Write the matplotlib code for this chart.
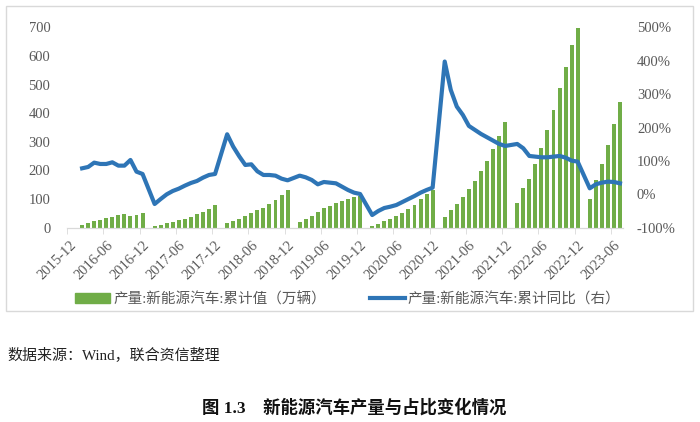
import matplotlib.pyplot as plt
import numpy as np
import pandas as pd
from matplotlib.patches import Rectangle, Patch
from matplotlib.lines import Line2D

plt.rcParams['font.family'] = ['Liberation Serif', 'Noto Sans CJK SC', 'DejaVu Sans']

# 月份 2015-12 ~ 2023-07，1月无数据
months = pd.period_range('2015-12', '2023-07', freq='M').strftime('%Y-%m').tolist()

# 产量:新能源汽车:累计值（万辆），各年2月起
prod_2016 = [9, 16, 22, 28, 34, 37, 44, 49, 41, 43, 50]
prod_2017 = [7, 10, 15, 20, 26, 31, 38, 47, 54, 64, 78]
prod_2018 = [15, 22, 31, 42, 52, 61, 70, 82, 97, 114, 133]
prod_2019 = [19, 29, 40, 55, 69, 77, 85, 92, 101, 109, 112]
prod_2020 = [7, 13, 23, 31, 42, 52, 66, 81, 99, 118, 133]
prod_2021 = [37, 61, 84, 107, 134, 162, 197, 233, 275, 322, 371]
prod_2022 = [86, 139, 172, 222, 280, 341, 412, 488, 562, 638, 701]
prod_2023 = [101, 168, 222, 289, 364, 440]

# 产量:新能源汽车:累计同比（%）
yoy_2016 = [78, 82, 95, 91, 91, 96, 86, 86, 103, 68, 61]
yoy_2017 = [-29, -14, 0, 10, 17, 26, 34, 40, 50, 58, 61]
yoy_2018 = [180, 143, 114, 88, 90, 69, 58, 58, 56, 47, 42]
yoy_2019 = [56, 51, 43, 30, 37, 35, 33, 23, 13, 5, 1]
yoy_2020 = [-62, -50, -41, -37, -32, -23, -14, -5, 5, 13, 20]
yoy_2021 = [398, 313, 263, 238, 205, 193, 181, 171, 161, 151, 145]
yoy_2022 = [151, 138, 115, 113, 111, 111, 113, 115, 110, 101, 98]
yoy_2023 = [18, 30, 35, 38, 37, 33]

prod_years = {2016: prod_2016, 2017: prod_2017, 2018: prod_2018, 2019: prod_2019,
              2020: prod_2020, 2021: prod_2021, 2022: prod_2022, 2023: prod_2023}
yoy_years = {2016: yoy_2016, 2017: yoy_2017, 2018: yoy_2018, 2019: yoy_2019,
             2020: yoy_2020, 2021: yoy_2021, 2022: yoy_2022, 2023: yoy_2023}

prod = pd.Series(np.nan, index=months)
yoy = pd.Series(np.nan, index=months)
for year, vals in prod_years.items():
    for i, v in enumerate(vals):
        prod[f'{year}-{i + 2:02d}'] = v
for year, vals in yoy_years.items():
    for i, v in enumerate(vals):
        yoy[f'{year}-{i + 2:02d}'] = v

x = np.arange(len(months))
grey = '#595959'

fig = plt.figure(figsize=(7, 4.22), dpi=100)
ax = fig.add_axes([67 / 700, 1 - 227.7 / 422, (623 - 67) / 700, (227.7 - 27.5) / 422])

ax.bar(x, prod.values, width=0.65, color='#70AD47')
ax.set_ylim(0, 700)
ax.set_yticks(range(0, 701, 100))
ax.set_xlim(-0.5, len(months) - 0.5)

ax2 = ax.twinx()
mask = yoy.notna().values
ax2.plot(x[mask], yoy.values[mask], color='#2E75B6', lw=3, solid_joinstyle='round')
ax2.set_ylim(-100, 500)
ax2.set_yticks(range(-100, 501, 100))
ax2.set_yticklabels([f'{v}%' for v in range(-100, 501, 100)])

# x 轴：每6个月一个标签
lab_idx = x[::6]
ax.set_xticks(lab_idx)
ax.set_xticklabels([months[i] for i in lab_idx], rotation=45, ha='right',
                   rotation_mode='anchor', fontsize=10.5, color=grey)
ax.set_xticks(lab_idx - 0.5, minor=True)
ax.tick_params(axis='x', which='major', length=0, pad=8)
ax.tick_params(axis='x', which='minor', length=4, color='#D9D9D9')
ax.tick_params(axis='y', length=0, labelsize=10.5, labelcolor=grey, pad=12)
ax2.tick_params(axis='y', length=0, labelsize=10.5, labelcolor=grey, pad=10)

for a in (ax, ax2):
    for s in ('top', 'left', 'right'):
        a.spines[s].set_visible(False)
    a.spines['bottom'].set_color('#D9D9D9')

handles = [Patch(color='#70AD47'), Line2D([], [], color='#2E75B6', lw=3)]
labels = ['产量:新能源汽车:累计值（万辆）', '产量:新能源汽车:累计同比（右）']
fig.legend(handles, labels, loc='center', bbox_to_anchor=(348 / 700, 1 - 299 / 422),
           ncol=2, frameon=False, fontsize=10.5, labelcolor=grey,
           handlelength=2.4, handleheight=0.6, handletextpad=0.2, columnspacing=3.0)

fig.add_artist(Rectangle((6 / 700, 1 - 311 / 422), 687 / 700, 305 / 422,
                         transform=fig.transFigure, fill=False, edgecolor='#D9D9D9', lw=1))

fig.text(7 / 700, 1 - 355 / 422, '数据来源：Wind，联合资信整理', fontsize=10.8,
         va='center', ha='left', color='#222222')
fig.text(354 / 700, 1 - 408 / 422, '图 1.3    新能源汽车产量与占比变化情况', fontsize=12.5,
         fontweight='bold', va='center', ha='center', color='#111111')

fig.savefig('out.png', dpi=100)
